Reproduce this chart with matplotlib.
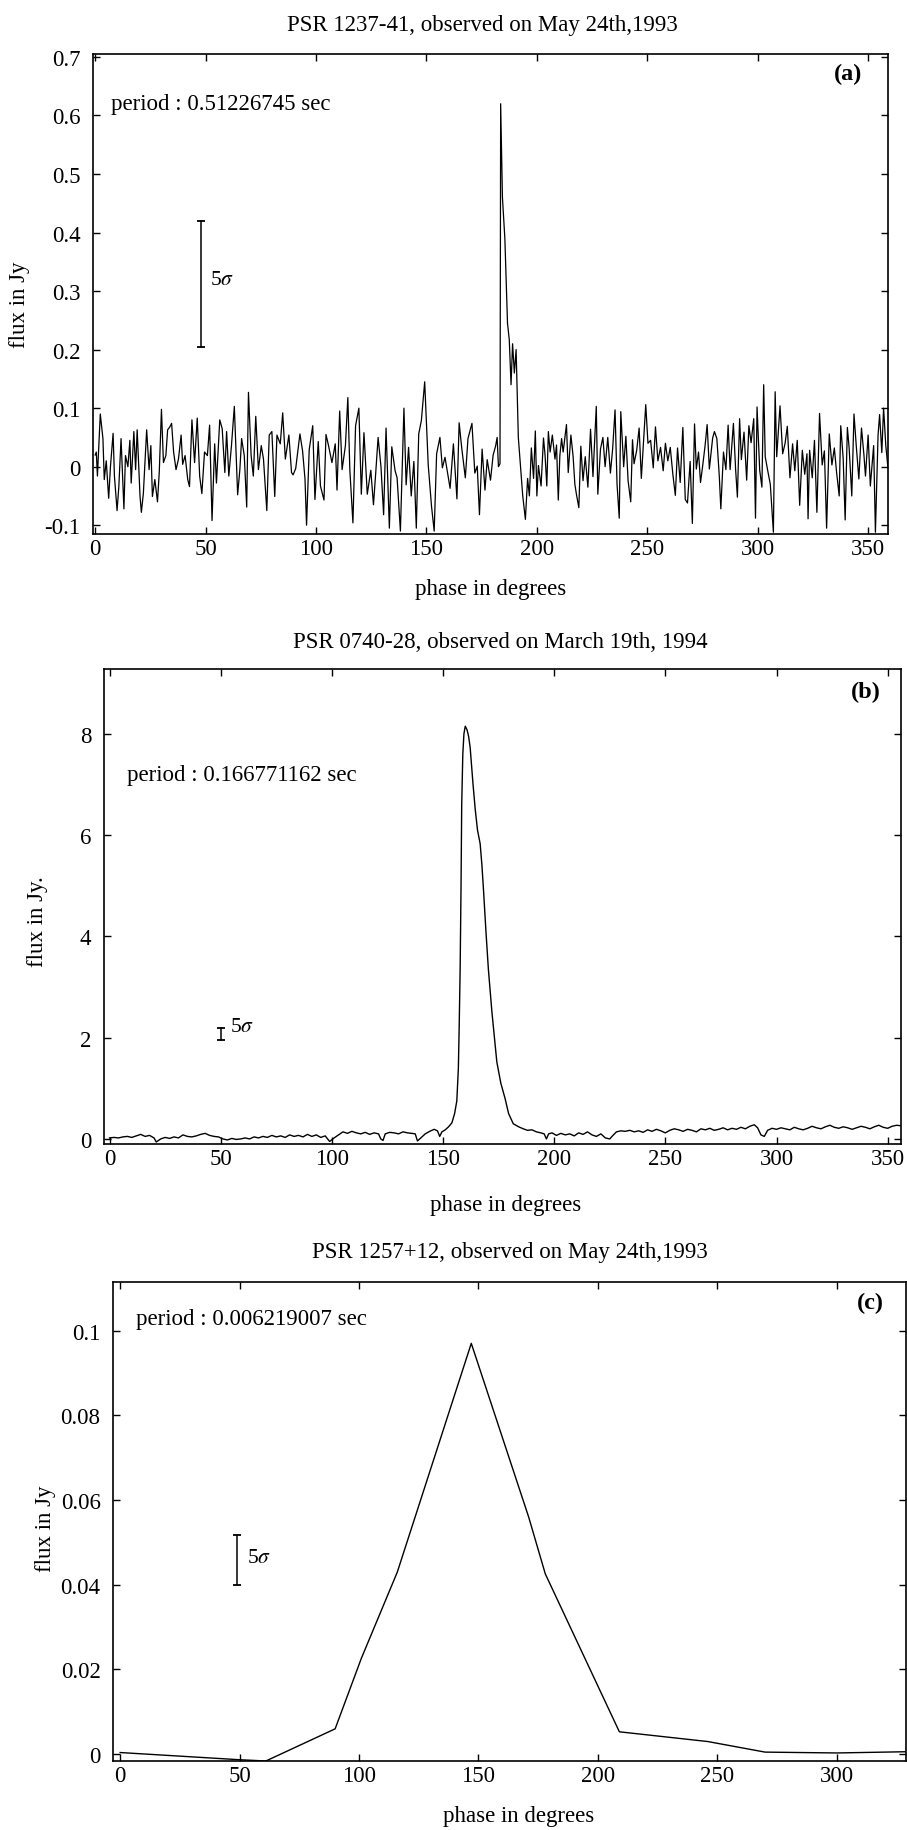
import matplotlib
matplotlib.use("Agg")
import matplotlib.pyplot as plt
from matplotlib.ticker import FuncFormatter

plt.rcParams["font.family"] = ["Liberation Serif", "DejaVu Serif"]
plt.rcParams["mathtext.fontset"] = "stix"

W, H = 907, 1831
FS = 16.5

# --- panel (a): PSR 1237-41, phase (deg) vs flux (Jy) ---
a_phase = [
    0.0, 0.5, 1.0, 2.3, 3.5, 4.1, 5.0, 6.1, 6.9, 8.1, 8.7, 9.9, 10.7, 11.7, 13.0, 13.7,
    14.8, 15.7, 16.3, 17.5, 18.3, 19.0, 20.3, 20.9, 21.8, 23.3, 24.4, 25.2, 25.9, 27.0,
    28.2, 29.0, 30.0, 30.9, 32.0, 32.8, 33.8, 34.6, 35.5, 36.6, 37.7, 38.9, 39.6, 40.7,
    41.9, 42.7, 43.8, 45.0, 46.2, 47.3, 48.3, 49.5, 50.8, 51.8, 52.9, 54.1, 54.9, 56.4,
    57.5, 58.7, 59.5, 60.5, 61.7, 63.0, 64.5, 65.5, 66.3, 67.5, 68.6, 69.4, 70.6, 71.6,
    72.7, 73.9, 75.2, 76.2, 77.7, 78.8, 80.0, 81.3, 82.3, 83.8, 84.9, 86.1, 87.7, 88.9,
    89.6, 90.8, 92.7, 93.9, 95.0, 95.7, 96.9, 98.5, 99.5, 101.0, 102.0, 103.6, 104.5,
    105.6, 107.2, 108.7, 109.5, 110.7, 111.8, 113.3, 114.4, 115.3, 116.7, 117.9, 119.4,
    120.5, 121.7, 123.2, 124.8, 126.0, 127.0, 128.1, 129.4, 130.6, 131.7, 133.2, 134.3,
    135.8, 136.7, 138.2, 139.8, 140.8, 141.9, 143.1, 144.3, 145.4, 146.5, 147.7, 149.2,
    150.8, 152.3, 153.5, 154.6, 156.1, 157.2, 158.4, 160.7, 161.5, 162.2, 163.8, 164.8,
    166.0, 167.6, 168.8, 170.6, 171.9, 173.0, 174.0, 175.2, 176.5, 177.5, 179.0, 180.2,
    181.3, 182.0, 182.6, 183.3, 183.6, 184.4, 185.5, 186.7, 187.5, 188.3, 189.0, 189.8,
    190.6, 191.6, 192.6, 193.6, 194.8, 195.8, 196.6, 197.5, 198.5, 199.3, 200.0, 200.7,
    201.9, 203.0, 203.7, 204.5, 205.2, 206.0, 207.0, 208.2, 208.9, 209.7, 210.4, 211.2,
    211.9, 213.4, 214.2, 215.4, 216.4, 217.2, 217.9, 219.0, 219.9, 220.9, 221.9, 223.1,
    224.3, 225.4, 226.9, 227.6, 228.8, 229.9, 230.9, 232.1, 233.3, 234.3, 235.4, 236.3,
    237.3, 238.0, 239.3, 240.3, 241.3, 242.5, 243.3, 244.0, 245.2, 246.3, 247.3, 248.5,
    249.3, 250.3, 251.5, 252.7, 253.7, 254.8, 256.0, 257.2, 258.2, 259.3, 260.4, 261.6,
    262.7, 263.7, 264.9, 266.1, 267.2, 268.2, 269.4, 270.4, 271.4, 272.2, 273.2, 274.1,
    275.1, 276.2, 277.1, 278.1, 278.9, 279.6, 280.4, 281.5, 282.6, 283.3, 284.5, 285.6,
    286.6, 287.5, 289.0, 290.0, 290.8, 291.8, 292.6, 293.8, 295.0, 296.0, 297.0, 298.2,
    299.0, 299.7, 300.9, 301.9, 302.7, 303.4, 304.5, 305.7, 307.1, 307.9, 308.6, 310.1,
    311.3, 312.4, 313.4, 314.6, 315.8, 316.8, 317.9, 319.0, 320.2, 321.3, 322.3, 322.8,
    323.5, 324.7, 325.7, 326.8, 328.0, 329.2, 330.2, 331.2, 332.4, 333.6, 334.7, 335.7,
    336.9, 337.6, 338.7, 339.6, 340.6, 341.4, 342.6, 343.6, 344.6, 345.8, 347.0, 348.1,
    348.8, 350.0, 351.0, 352.5, 353.3, 354.5, 355.2, 356.2, 357.0, 358.0, 358.9,
]
a_flux = [
    0.020, 0.025, -0.016, 0.090, 0.048, -0.022, 0.010, -0.054, 0.000, 0.057, -0.016, -0.075,
    -0.034, 0.048, -0.072, 0.019, 0.000, 0.045, -0.028, 0.060, -0.005, 0.063, -0.051, -0.078,
    -0.046, 0.063, -0.005, 0.036, -0.051, -0.022, -0.060, -0.010, 0.098, 0.007, 0.019, 0.063,
    0.068, 0.074, 0.025, -0.005, 0.013, 0.054, 0.004, 0.019, -0.022, -0.034, 0.080, 0.007,
    0.083, -0.016, -0.046, 0.025, 0.019, 0.071, -0.092, 0.039, -0.028, 0.080, 0.065, -0.010,
    0.060, -0.016, 0.036, 0.103, -0.048, -0.005, 0.048, 0.019, -0.069, 0.127, 0.019, -0.016,
    0.086, -0.005, 0.036, 0.013, -0.075, 0.054, 0.060, -0.051, 0.054, 0.039, 0.092, 0.013,
    0.054, -0.010, -0.014, -0.003, 0.056, 0.027, -0.021, -0.100, 0.029, 0.070, -0.056, 0.043,
    -0.033, -0.057, 0.055, 0.037, 0.007, 0.039, -0.040, 0.095, -0.005, 0.036, 0.118, -0.005,
    -0.096, 0.070, 0.100, -0.047, 0.058, -0.047, -0.006, -0.065, -0.012, 0.050, 0.000, -0.082,
    0.066, -0.105, 0.034, -0.007, -0.019, -0.110, 0.100, -0.031, 0.033, -0.050, 0.009, -0.105,
    0.056, 0.079, 0.145, 0.003, -0.068, -0.110, 0.022, 0.050, -0.002, 0.016, -0.037, 0.003,
    0.039, -0.055, 0.075, 0.031, -0.019, 0.048, 0.074, -0.011, 0.001, -0.082, 0.030, -0.040,
    0.012, -0.023, 0.020, 0.035, 0.050, 0.000, 0.005, 0.620, 0.460, 0.390, 0.245, 0.217,
    0.140, 0.210, 0.160, 0.200, 0.050, 0.000, -0.050, -0.090, -0.020, -0.050, 0.032, -0.020,
    0.061, -0.050, 0.002, -0.033, 0.049, 0.020, -0.033, 0.060, 0.025, 0.054, 0.013, 0.037,
    -0.057, 0.019, 0.048, 0.025, 0.072, -0.010, 0.054, 0.018, -0.030, -0.047, -0.070, 0.035,
    -0.024, 0.017, -0.035, 0.064, -0.017, 0.103, -0.047, 0.030, 0.050, 0.000, 0.050, -0.011,
    0.030, 0.097, -0.030, -0.088, 0.094, 0.000, 0.052, -0.024, -0.060, 0.046, 0.005, 0.028,
    0.066, -0.020, 0.057, 0.106, 0.040, 0.045, -0.002, 0.068, 0.010, 0.033, -0.007, 0.040,
    0.010, 0.033, -0.014, -0.049, 0.032, -0.027, 0.067, -0.056, -0.062, 0.009, -0.097, 0.073,
    -0.004, 0.025, -0.027, 0.002, 0.037, 0.072, -0.004, 0.025, 0.049, 0.060, 0.048, -0.016,
    -0.072, 0.025, -0.005, 0.071, -0.005, 0.074, -0.005, -0.052, 0.082, 0.012, 0.059, -0.023,
    0.070, 0.041, 0.082, -0.088, 0.102, -0.006, -0.035, 0.140, 0.017, -0.006, -0.030, -0.112,
    0.128, 0.017, 0.104, 0.022, 0.040, 0.069, -0.019, 0.039, -0.007, 0.045, -0.066, 0.028,
    -0.013, 0.022, -0.089, 0.028, -0.019, 0.045, -0.078, 0.091, 0.003, 0.027, -0.105, 0.056,
    0.003, 0.032, -0.009, -0.050, 0.070, 0.014, -0.091, 0.067, 0.032, -0.050, 0.090, 0.037,
    -0.021, 0.066, 0.020, -0.016, 0.054, -0.033, 0.036, -0.112, 0.054, 0.089, 0.024, 0.100,
    0.036, 0.001,
]

# --- panel (b): PSR 0740-28 ---
b_phase = [
    0, 2, 4, 6, 8, 10, 12, 14, 16, 18, 20, 21, 23, 25, 27, 29, 31, 33, 35, 37, 39, 41, 43,
    45, 47, 49, 51, 53, 55, 57, 59, 61, 63, 65, 67, 69, 71, 73, 75, 77, 79, 81, 83, 85, 87,
    89, 91, 93, 95, 97, 99, 101, 103, 105, 107, 109, 111, 113, 115, 117, 119, 121, 122, 123,
    124, 126, 128, 130, 132, 134, 136, 137.5, 138.5, 140, 142, 144, 146, 147.5, 148.5,
    149.5, 151, 152.5, 154, 155.2, 156.2, 156.9, 157.3, 157.7, 158.1, 158.4, 158.9, 159.4,
    160.0, 160.8, 161.5, 162.2, 163.5, 164.5, 165.5, 166.7, 167.5, 168.2, 169.3, 170.4,
    172.0, 174.2, 176.0, 177.9, 179.5, 181.6, 184.0, 186.1, 188, 190, 192, 194, 195.5,
    196.5, 197.5, 199, 201, 203, 205, 207, 209, 211, 213, 215, 217, 219, 221, 223, 225,
    226, 228, 230, 232, 234, 236, 238, 240, 242, 244, 246, 248, 250, 252, 254, 256, 258,
    260, 262, 264, 266, 268, 270, 272, 274, 276, 278, 280, 282, 284, 286, 288, 290, 291.5,
    293, 294.5, 296, 298, 300, 302, 304, 306, 308, 310, 312, 314, 316, 318, 320, 322, 324,
    326, 328, 330, 332, 334, 336, 338, 340, 342, 344, 346, 348, 350, 352, 354, 356,
]
b_flux = [
    0.02, 0.03, 0.02, 0.04, 0.05, 0.03, 0.06, 0.09, 0.05, 0.07, 0.02, -0.06, 0.00, 0.03,
    0.01, 0.04, 0.02, 0.08, 0.05, 0.04, 0.06, 0.09, 0.11, 0.07, 0.05, 0.04, 0.00, -0.02,
    0.01, -0.01, 0.00, 0.02, 0.00, 0.04, 0.02, 0.05, 0.03, 0.07, 0.04, 0.06, 0.03, 0.08,
    0.05, 0.07, 0.04, 0.09, 0.05, 0.08, 0.03, 0.06, -0.05, 0.02, 0.08, 0.14, 0.11, 0.15,
    0.12, 0.10, 0.13, 0.09, 0.12, 0.10, 0.00, -0.03, 0.10, 0.13, 0.12, 0.10, 0.14, 0.12,
    0.11, 0.10, -0.04, 0.02, 0.10, 0.15, 0.19, 0.16, 0.05, 0.14, 0.18, 0.24, 0.32, 0.50,
    0.75, 1.40, 2.30, 3.36, 5.00, 6.60, 7.60, 8.00, 8.15, 8.08, 7.95, 7.73, 7.00, 6.50,
    6.10, 5.83, 5.40, 4.92, 4.10, 3.35, 2.50, 1.52, 1.10, 0.80, 0.50, 0.30, 0.24, 0.20,
    0.17, 0.18, 0.14, 0.12, 0.10, 0.00, 0.10, 0.12, 0.07, 0.11, 0.08, 0.10, 0.06, 0.12,
    0.09, 0.14, 0.08, 0.05, 0.10, 0.02, 0.00, 0.05, 0.14, 0.16, 0.15, 0.17, 0.14, 0.16,
    0.13, 0.18, 0.15, 0.19, 0.16, 0.12, 0.17, 0.20, 0.18, 0.15, 0.19, 0.17, 0.14, 0.20,
    0.18, 0.21, 0.17, 0.19, 0.22, 0.18, 0.21, 0.19, 0.23, 0.20, 0.25, 0.28, 0.22, 0.08,
    0.05, 0.17, 0.21, 0.19, 0.22, 0.20, 0.18, 0.23, 0.20, 0.18, 0.21, 0.25, 0.22, 0.20,
    0.24, 0.27, 0.23, 0.21, 0.24, 0.22, 0.19, 0.22, 0.25, 0.23, 0.20, 0.24, 0.27, 0.23,
    0.21, 0.25, 0.27, 0.26,
]

# --- panel (c): PSR 1257+12 ---
c_phase = [0, 50, 61, 90, 101, 116, 147, 171, 178, 209, 246, 270, 300, 330]
c_flux = [0.0003, -0.0014, -0.0017, 0.0059, 0.0226, 0.0429, 0.0970, 0.0560, 0.0425,
          0.0052, 0.0029, 0.0004, 0.0002, 0.0005]

x_ticks = [0, 50, 100, 150, 200, 250, 300, 350]
a_yticks = [-0.1, 0, 0.1, 0.2, 0.3, 0.4, 0.5, 0.6, 0.7]
b_yticks = [0, 2, 4, 6, 8]
c_yticks = [0, 0.02, 0.04, 0.06, 0.08, 0.1]

# 5-sigma bars (x, low, high)
a_sigma = (48, 0.205, 0.42)
b_sigma = (50, 1.95, 2.2)
c_sigma = (49, 0.0400, 0.0518)


def place(fig, left, top, right, bottom):
    return fig.add_axes([left / W, 1 - bottom / H, (right - left) / W, (bottom - top) / H])


def style(ax, xlim, ylim, yticks, xticks):
    ax.set_xlim(*xlim)
    ax.set_ylim(*ylim)
    ax.set_xticks(xticks)
    ax.set_yticks(yticks)
    ax.xaxis.set_major_formatter(FuncFormatter(lambda v, p: f"{v:g}"))
    ax.yaxis.set_major_formatter(FuncFormatter(lambda v, p: f"{v:g}"))
    ax.tick_params(direction="in", top=True, right=True, length=5, width=1,
                   labelsize=FS)
    ax.tick_params(axis="y", pad=9)
    ax.tick_params(axis="x", pad=3)
    for s in ax.spines.values():
        s.set_linewidth(1.2)


def sigma_bar(ax, bar, label_dx, label_y, **kw):
    x, lo, hi = bar
    ax.plot([x, x], [lo, hi], color="k", lw=1.1)
    ax.plot([x, x], [lo, hi], color="k", ls="none", marker="_", ms=6, mew=1.3)
    ax.text(x + label_dx, label_y, "5$\\sigma$", fontsize=FS - 1, va="center", **kw)


def fig_text(x, y, s, **kw):
    fig.text(x / W, 1 - y / H, s, fontsize=FS, ha="center", va="center", **kw)


fig = plt.figure(figsize=(W / 100, H / 100), dpi=100)

# (a)
ax = place(fig, 93, 55, 888, 535)
ax.plot(a_phase, a_flux, color="k", lw=0.9)
style(ax, (-1, 359), (-0.115, 0.705), a_yticks, x_ticks)
ax.text(7, 0.62, "period : 0.51226745 sec", fontsize=FS, va="center")
ax.text(341, 0.672, "(a)", fontsize=FS + 1, fontweight="bold", ha="center", va="center")
sigma_bar(ax, a_sigma, 4, 0.32)
fig_text(482, 25, "PSR 1237-41, observed on May 24th,1993")
fig_text(491, 590, "phase in degrees")
fig_text(20, 305, "flux in Jy", rotation=90)

# (b)
ax = place(fig, 104, 670, 901, 1145)
ax.plot(b_phase, b_flux, color="k", lw=1.0)
style(ax, (-2.5, 356), (-0.1, 9.28), b_yticks, x_ticks)
ax.text(8, 7.2, "period : 0.166771162 sec", fontsize=FS, va="center")
ax.text(340, 8.83, "(b)", fontsize=FS + 1, fontweight="bold", ha="center", va="center")
sigma_bar(ax, b_sigma, 4, 2.22)
fig_text(500, 642, "PSR 0740-28, observed on March 19th, 1994")
fig_text(506, 1206, "phase in degrees")
fig_text(38, 922, "flux in Jy.", rotation=90)

# (c)
ax = place(fig, 113, 1283, 906, 1762)
ax.plot(c_phase, c_flux, color="k", lw=1.0)
style(ax, (-3, 329), (-0.0017, 0.1115), c_yticks, x_ticks[:-1])
ax.text(6.5, 0.1028, "period : 0.006219007 sec", fontsize=FS, va="center")
ax.text(314, 0.1066, "(c)", fontsize=FS + 1, fontweight="bold", ha="center", va="center")
sigma_bar(ax, c_sigma, 4, 0.0463)
fig_text(510, 1253, "PSR 1257+12, observed on May 24th,1993")
fig_text(519, 1817, "phase in degrees")
fig_text(46, 1529, "flux in Jy", rotation=90)

fig.savefig("out.png", dpi=100)
